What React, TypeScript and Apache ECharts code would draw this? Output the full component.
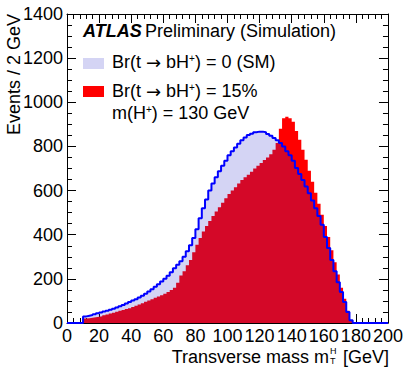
import React, { useEffect, useRef } from "react";
import * as echarts from "echarts";

const FONT = '"Liberation Sans", Arial, Helvetica, sans-serif';
const ARROW_FONT = '"DejaVu Sans", sans-serif';

// bin left edges (GeV), 2 GeV bins from 0 to 200
const binEdges: number[] = Array.from({ length: 100 }, (_, i) => i * 2);

// Br(t -> bH+) = 0 (SM)
const smValues: number[] = [
  0, 0, 0, 0, 0, 30, 33, 36, 40, 44,
  48, 52, 56, 60, 65, 70, 76, 82, 88, 95,
  102, 108, 116, 124, 133, 143, 153, 164, 176, 188,
  200, 214, 230, 248, 264, 280, 300, 325, 352, 385,
  425, 475, 520, 560, 600, 632, 660, 688, 712, 735,
  760, 778, 795, 812, 828, 840, 852, 858, 864, 867,
  867, 864, 856, 848, 838, 828, 815, 800, 778, 760,
  735, 702, 675, 648, 618, 588, 555, 520, 485, 445,
  390, 340, 285, 235, 185, 140, 95, 50, 12, 0,
  0, 0, 0, 0, 0, 0, 0, 0, 0, 0,
];

// Br(t -> bH+) = 15%, m(H+) = 130 GeV
const hValues: number[] = [
  0, 0, 0, 0, 0, 20, 22, 24, 26, 28,
  31, 35, 39, 43, 47, 51, 55, 59, 63, 67,
  72, 78, 84, 90, 96, 102, 108, 114, 120, 126,
  132, 140, 150, 160, 182, 215, 235, 262, 285, 320,
  355, 385, 415, 440, 462, 485, 505, 525, 545, 565,
  585, 600, 615, 632, 648, 660, 672, 685, 700, 712,
  725, 738, 750, 765, 785, 815, 880, 928, 935, 928,
  912, 870, 830, 785, 740, 690, 640, 590, 540, 490,
  440, 390, 330, 275, 220, 160, 110, 55, 10, 0,
  0, 0, 0, 0, 0, 0, 0, 0, 0, 0,
];

const xMax = 200;
const yMax = 1400;

function toSteps(vals: number[]): number[][] {
  const pts = binEdges.map((x, i) => [x, vals[i]]);
  pts.push([xMax, vals[vals.length - 1]]);
  return pts;
}

const HATCH = "rgba(40,40,200,0.2)";

export default function App() {
  const ref = useRef<HTMLDivElement>(null);
  useEffect(() => {
    if (!ref.current) return;
    const chart = echarts.init(ref.current, undefined, { renderer: "svg" });
    const axisCommon = {
      type: "value" as const,
      axisLine: { show: true, onZero: false, lineStyle: { color: "#000", width: 1 } },
      axisTick: { show: true, inside: true, length: 9, lineStyle: { color: "#000", width: 1 } },
      minorTick: { show: true, length: 5, lineStyle: { color: "#000", width: 1 } },
      splitLine: { show: false },
      minorSplitLine: { show: false },
    };
    const labelStyle = {
      fontSize: 18,
      color: "#000",
      fontFamily: FONT,
      formatter: (v: number) => String(v),
    };
    const richN = { fontSize: 18, fontFamily: FONT, fill: "#000" };
    const richA = { fontSize: 18, fontFamily: ARROW_FONT, fill: "#000" };
    const richS = { fontSize: 10, fontFamily: FONT, fill: "#000", verticalAlign: "top" };
    chart.setOption({
      animation: false,
      backgroundColor: "#fff",
      grid: { left: 67, right: 17, top: 14, bottom: 47, containLabel: false },
      xAxis: [
        {
          ...axisCommon,
          position: "bottom",
          min: 0,
          max: xMax,
          interval: 20,
          minorTick: { ...axisCommon.minorTick, splitNumber: 5 },
          axisLabel: { ...labelStyle, margin: 4 },
        },
        {
          ...axisCommon,
          position: "top",
          min: 0,
          max: xMax,
          interval: 20,
          minorTick: { ...axisCommon.minorTick, splitNumber: 5 },
          axisLabel: { show: false },
        },
      ],
      yAxis: [
        {
          ...axisCommon,
          position: "left",
          min: 0,
          max: yMax,
          interval: 200,
          minorTick: { ...axisCommon.minorTick, splitNumber: 4 },
          axisLabel: { ...labelStyle, margin: 4 },
        },
        {
          ...axisCommon,
          position: "right",
          min: 0,
          max: yMax,
          interval: 200,
          minorTick: { ...axisCommon.minorTick, splitNumber: 4 },
          axisLabel: { show: false },
        },
      ],
      series: [
        {
          type: "line",
          name: "H+",
          xAxisIndex: 0,
          yAxisIndex: 0,
          data: toSteps(hValues),
          step: "end",
          symbol: "none",
          lineStyle: { width: 0, color: "#ff0000" },
          areaStyle: { color: "#ff0000", opacity: 1 },
          z: 2,
        },
        {
          type: "line",
          name: "SM",
          xAxisIndex: 0,
          yAxisIndex: 0,
          data: toSteps(smValues),
          step: "end",
          symbol: "none",
          lineStyle: { width: 2, color: "#0000ff" },
          areaStyle: { color: HATCH, opacity: 1 },
          z: 3,
        },
      ],
      graphic: [
        {
          type: "text",
          x: 83,
          y: 31,
          style: {
            text: "{b|ATLAS} {n|Preliminary (Simulation)}",
            verticalAlign: "middle",
            align: "left",
            fill: "#000",
            rich: {
              b: { fontSize: 18, fontWeight: "bold", fontStyle: "italic", fontFamily: FONT, fill: "#000" },
              n: richN,
            },
          },
        },
        {
          type: "rect",
          shape: { x: 83, y: 58, width: 21, height: 11 },
          style: { fill: HATCH },
        },
        {
          type: "text",
          x: 112,
          y: 62,
          style: {
            text: "{n|Br(t }{a|→}{n| bH}{s|+}{n|) = 0 (SM)}",
            verticalAlign: "middle",
            align: "left",
            rich: { n: richN, a: richA, s: richS },
          },
        },
        {
          type: "rect",
          shape: { x: 83, y: 86, width: 21, height: 11 },
          style: { fill: "#ff0000" },
        },
        {
          type: "text",
          x: 112,
          y: 91,
          style: {
            text: "{n|Br(t }{a|→}{n| bH}{s|+}{n|) = 15%}",
            verticalAlign: "middle",
            align: "left",
            rich: { n: richN, a: richA, s: richS },
          },
        },
        {
          type: "text",
          x: 112,
          y: 113,
          style: {
            text: "{n|m(H}{s|+}{n|) = 130 GeV}",
            verticalAlign: "middle",
            align: "left",
            rich: { n: richN, s: richS },
          },
        },
        {
          type: "text",
          x: 14,
          y: 14,
          rotation: Math.PI / 2,
          style: {
            text: "Events / 2 GeV",
            fontSize: 18,
            fontFamily: FONT,
            fill: "#000",
            align: "right",
            verticalAlign: "middle",
          },
        },
        {
          type: "text",
          x: 329,
          y: 357,
          style: {
            text: "Transverse mass m",
            fontSize: 18,
            fontFamily: FONT,
            fill: "#000",
            align: "right",
            verticalAlign: "middle",
          },
        },
        {
          type: "text",
          x: 330,
          y: 351,
          style: { text: "H", fontSize: 9, fontFamily: FONT, fill: "#000", align: "left", verticalAlign: "middle" },
        },
        {
          type: "text",
          x: 330,
          y: 361,
          style: { text: "T", fontSize: 9, fontFamily: FONT, fill: "#000", align: "left", verticalAlign: "middle" },
        },
        {
          type: "text",
          x: 389,
          y: 357,
          style: {
            text: "[GeV]",
            fontSize: 18,
            fontFamily: FONT,
            fill: "#000",
            align: "right",
            verticalAlign: "middle",
          },
        },
      ],
    });
    return () => chart.dispose();
  }, []);
  return (
    <div
      ref={ref}
      style={{ position: "absolute", left: 0, top: 0, width: 406, height: 370, background: "#fff" }}
    />
  );
}
